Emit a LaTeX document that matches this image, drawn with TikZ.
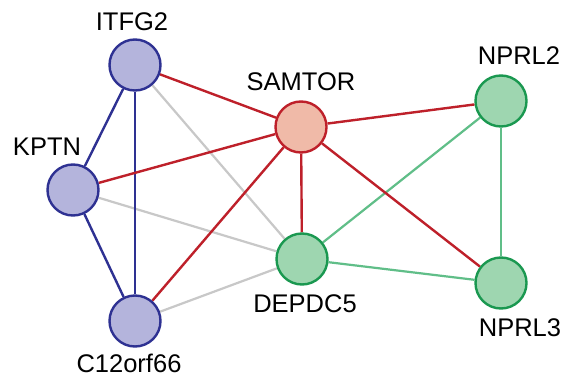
\documentclass[tikz,border=0pt]{standalone}
\usepackage{fontspec}
\setmainfont{Liberation Sans}
\usetikzlibrary{backgrounds}
\definecolor{bfill}{RGB}{180,180,220}
\definecolor{bdraw}{RGB}{46,49,146}
\definecolor{rfill}{RGB}{240,186,168}
\definecolor{rdraw}{RGB}{190,32,42}
\definecolor{gfill}{RGB}{158,214,176}
\definecolor{gdraw}{RGB}{26,152,80}
\definecolor{gedge}{RGB}{96,190,136}
\definecolor{grayedge}{RGB}{200,200,200}
\begin{document}
\begin{tikzpicture}[x=1pt,y=-1pt,
  nd/.style={circle,minimum size=51pt,inner sep=0pt,line width=2.4pt},
  bnode/.style={nd,fill=bfill,draw=bdraw},
  rnode/.style={nd,fill=rfill,draw=rdraw},
  gnode/.style={nd,fill=gfill,draw=gdraw},
  lbl/.style={font=\fontsize{25.5}{25.5}\selectfont,inner sep=0pt,anchor=base},
  bedge/.style={draw=bdraw,line width=2.4pt},
  redge/.style={draw=rdraw,line width=2.4pt},
  gredge/.style={draw=grayedge,line width=2.2pt},
  gnedge/.style={draw=gedge,line width=2.2pt}]
\useasboundingbox (0,0) rectangle (569,377);
% nodes
\node[bnode] (itfg2) at (135,65) {};
\node[rnode] (samtor) at (301,127) {};
\node[gnode] (nprl2) at (501,101) {};
\node[bnode] (kptn) at (73,190) {};
\node[gnode] (depdc5) at (302,259) {};
\node[gnode] (nprl3) at (501,283) {};
\node[bnode] (c12) at (135,321) {};
% edges
\begin{scope}[on background layer]
\fill[white] (0,0) rectangle (569,377);
\path[gredge] (itfg2) -- (depdc5);
\path[gredge] (kptn) -- (depdc5);
\path[gredge] (c12) -- (depdc5);
\path[bedge] (itfg2) -- (kptn);
\path[bedge] (itfg2) -- (c12);
\path[bedge] (kptn) -- (c12);
\path[gnedge] (depdc5) -- (nprl2);
\path[gnedge] (depdc5) -- (nprl3);
\path[gnedge] (nprl2) -- (nprl3);
\path[redge] (itfg2) -- (samtor);
\path[redge] (kptn) -- (samtor);
\path[redge] (c12) -- (samtor);
\path[redge] (samtor) -- (depdc5);
\path[redge] (samtor) -- (nprl2);
\path[redge] (samtor) -- (nprl3);
\end{scope}
% labels
\node[lbl] (l1) at (132,31) {ITFG2};
\node[lbl] (l2) at (301,91) {SAMTOR};
\node[lbl] (l3) at (519,65) {NPRL2};
\node[lbl] (l4) at (47,155) {KPTN};
\node[lbl] (l5) at (305,312) {DEPDC5};
\node[lbl] (l6) at (520,336) {NPRL3};
\node[lbl] (l7) at (129,372) {C12orf66};
\end{tikzpicture}
\end{document}
